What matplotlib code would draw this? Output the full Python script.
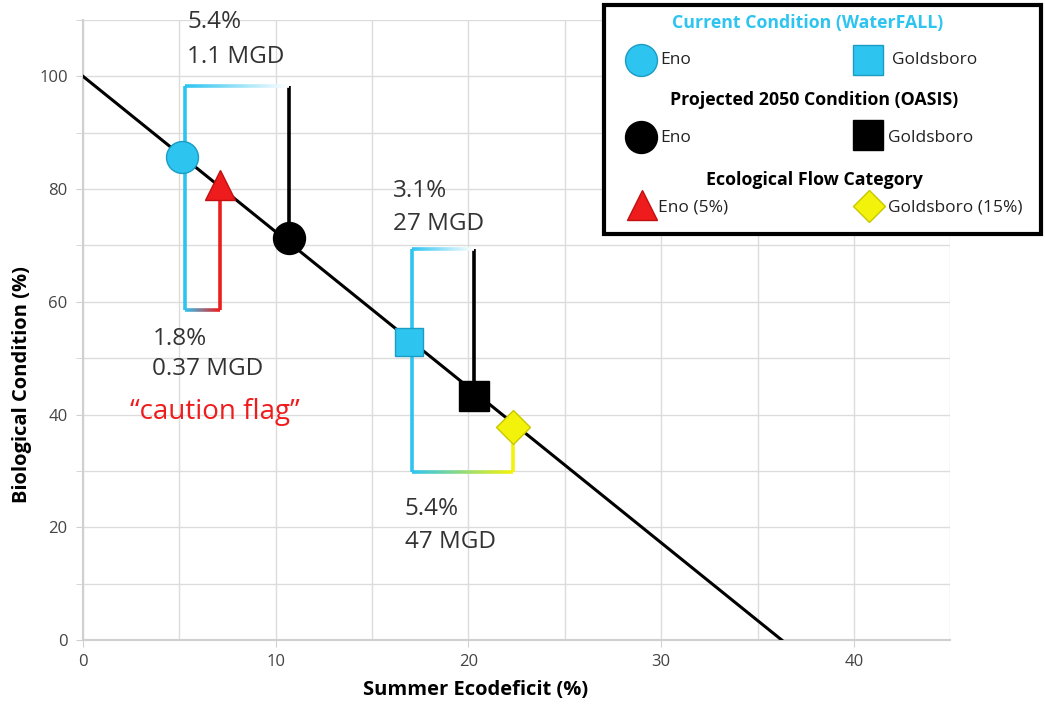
import numpy as np
import matplotlib
matplotlib.use("Agg")
from matplotlib import pyplot as plt
from matplotlib import collections as mc
from matplotlib.colors import to_rgb

plt.rcParams['font.family'] = ['Open Sans', 'DejaVu Sans']

# regression line: biological condition vs summer ecodeficit
line_x = [0, 36.25]
line_y = [100, 0]

# sites: (ecodeficit %, biological condition %)
eno_current = (5.15, 85.6)
eno_2050 = (10.7, 71.4)
eno_flow = (7.1, 80.8)
gold_current = (16.9, 52.8)
gold_2050 = (20.3, 43.3)
gold_flow = (22.3, 37.8)

# bracket levels
eno_top, eno_bottom = 98.2, 58.6
gold_top, gold_bottom = 69.4, 29.8

# change annotations: (x, y of first line, y of second line, line1, line2)
notes = [
    (5.4, 108.6, 102.4, '5.4%', '1.1 MGD'),
    (3.6, 52.3, 47.0, '1.8%', '0.37 MGD'),
    (16.1, 78.6, 72.7, '3.1%', '27 MGD'),
    (16.7, 22.2, 16.3, '5.4%', '47 MGD'),
]

CYAN = '#2ec4f0'
CYAN_E = '#1a9cc4'
RED = '#ee1c1c'
YELLOW = '#f2f20a'

fig = plt.figure(figsize=(10.45, 7.07), dpi=100)
ax = fig.add_axes([0.0794, 0.0948, 0.830, 0.877])
ax.set_xlim(0, 45)
ax.set_ylim(0, 110)
ax.set_xticks([0, 10, 20, 30, 40])
ax.set_yticks([0, 20, 40, 60, 80, 100])
ax.set_xticks(np.arange(0, 46, 5), minor=True)
ax.set_yticks(np.arange(0, 111, 10), minor=True)
ax.grid(True, which='both', color='#dcdcdc', lw=1)
ax.set_axisbelow(True)
for s in ['top', 'right']:
    ax.spines[s].set_visible(False)
for s in ['left', 'bottom']:
    ax.spines[s].set_color('#d0d0d0')
    ax.spines[s].set_linewidth(1.5)
ax.tick_params(which='both', labelsize=12, colors='#444444', color='#d0d0d0')
ax.tick_params(axis='x', which='major', length=5, pad=5)
ax.tick_params(axis='x', which='minor', length=0)
ax.tick_params(axis='y', which='both', length=5, pad=6)

fig.text(476 / 1045, 1 - 690 / 707, 'Summer Ecodeficit (%)', fontsize=14.5,
         fontweight='bold', ha='center', va='center')
fig.text(22 / 1045, 1 - 385 / 707, 'Biological Condition (%)', fontsize=14.5,
         fontweight='bold', ha='center', va='center', rotation=90)

ax.plot(line_x, line_y, color='black', lw=2.2, zorder=3)


def grad_line(x0, x1, y, c0, c1, n=60):
    xs = np.linspace(x0, x1, n + 1)
    segs = [[(xs[i], y), (xs[i + 1], y)] for i in range(n)]
    a, b = np.array(to_rgb(c0)), np.array(to_rgb(c1))
    cols = [a + (b - a) * t for t in np.linspace(0, 1, n)]
    ax.add_collection(mc.LineCollection(segs, colors=cols, lw=2.6, zorder=2,
                                        capstyle='butt'))


def bracket(p0, p1, level, c0, c1, mid=None):
    x0, x1 = p0[0] + 0.15, p1[0]
    ax.plot([x0, x0], [p0[1], level], color=c0, lw=2.6, zorder=2, solid_capstyle='butt')
    ax.plot([x1, x1], [p1[1], level], color=c1, lw=2.6, zorder=2, solid_capstyle='butt')
    grad_line(x0, x1, level, c0, mid or c1)


bracket(eno_current, eno_2050, eno_top, CYAN, 'black', mid='white')
bracket(eno_current, eno_flow, eno_bottom, CYAN, RED)
bracket(gold_current, gold_2050, gold_top, CYAN, 'black', mid='white')
bracket(gold_current, gold_flow, gold_bottom, CYAN, YELLOW)

mk = dict(zorder=5, linestyle='none')
ax.plot(*eno_current, marker='o', ms=23, mfc=CYAN, mec=CYAN_E, mew=1, **mk)
ax.plot(*eno_2050, marker='o', ms=23, mfc='black', mec='black', **mk)
ax.plot(*eno_flow, marker='^', ms=21, mfc=RED, mec='#c01010', mew=1, **mk)
ax.plot(*gold_current, marker='s', ms=20, mfc=CYAN, mec=CYAN_E, mew=1, **mk)
ax.plot(*gold_2050, marker='s', ms=21, mfc='black', mec='black', **mk)
ax.plot(*gold_flow, marker='D', ms=17, mfc=YELLOW, mec='#c8c800', mew=1, **mk)

txt = dict(fontsize=17.5, color='#333333', va='baseline', clip_on=False)
for x, y1, y2, t1, t2 in notes:
    ax.text(x, y1, t1, **txt)
    ax.text(x, y2, t2, **txt)
ax.text(2.45, 39.2, '\u201ccaution flag\u201d', fontsize=20, color=RED, va='baseline')

# legend box drawn in figure pixels
lg = fig.add_axes([0, 0, 1, 1], facecolor='none')
lg.set_xlim(0, 1045)
lg.set_ylim(707, 0)
lg.axis('off')
lg.add_patch(plt.Rectangle((604, 5), 437, 229, fc='white', ec='black', lw=3, zorder=1))
hd = dict(fontsize=12.8, fontweight='bold', ha='center', va='center')
lg.text(808, 23, 'Current Condition (WaterFALL)', color=CYAN, **hd)
lg.text(814, 100, 'Projected 2050 Condition (OASIS)', color='black', **hd)
lg.text(814, 180, 'Ecological Flow Category', color='black', **hd)
it = dict(fontsize=12.5, va='center', color='#222222')
lg.plot(641, 60, marker='o', ms=23, mfc=CYAN, mec=CYAN_E, mew=1)
lg.text(660, 60, 'Eno', **it)
lg.plot(868, 60, marker='s', ms=21, mfc=CYAN, mec=CYAN_E, mew=1)
lg.text(892, 60, 'Goldsboro', **it)
lg.plot(641, 137, marker='o', ms=23, mfc='black', mec='black')
lg.text(660, 138, 'Eno', **it)
lg.plot(868, 135, marker='s', ms=21, mfc='black', mec='black')
lg.text(888, 138, 'Goldsboro', **it)
lg.plot(642, 205, marker='^', ms=22, mfc=RED, mec='#c01010', mew=1)
lg.text(658, 207, 'Eno (5%)', **it)
lg.plot(869, 206, marker='D', ms=16, mfc=YELLOW, mec='#c8c800', mew=1)
lg.text(888, 207, 'Goldsboro (15%)', **it)

fig.savefig('out.png', dpi=100)
